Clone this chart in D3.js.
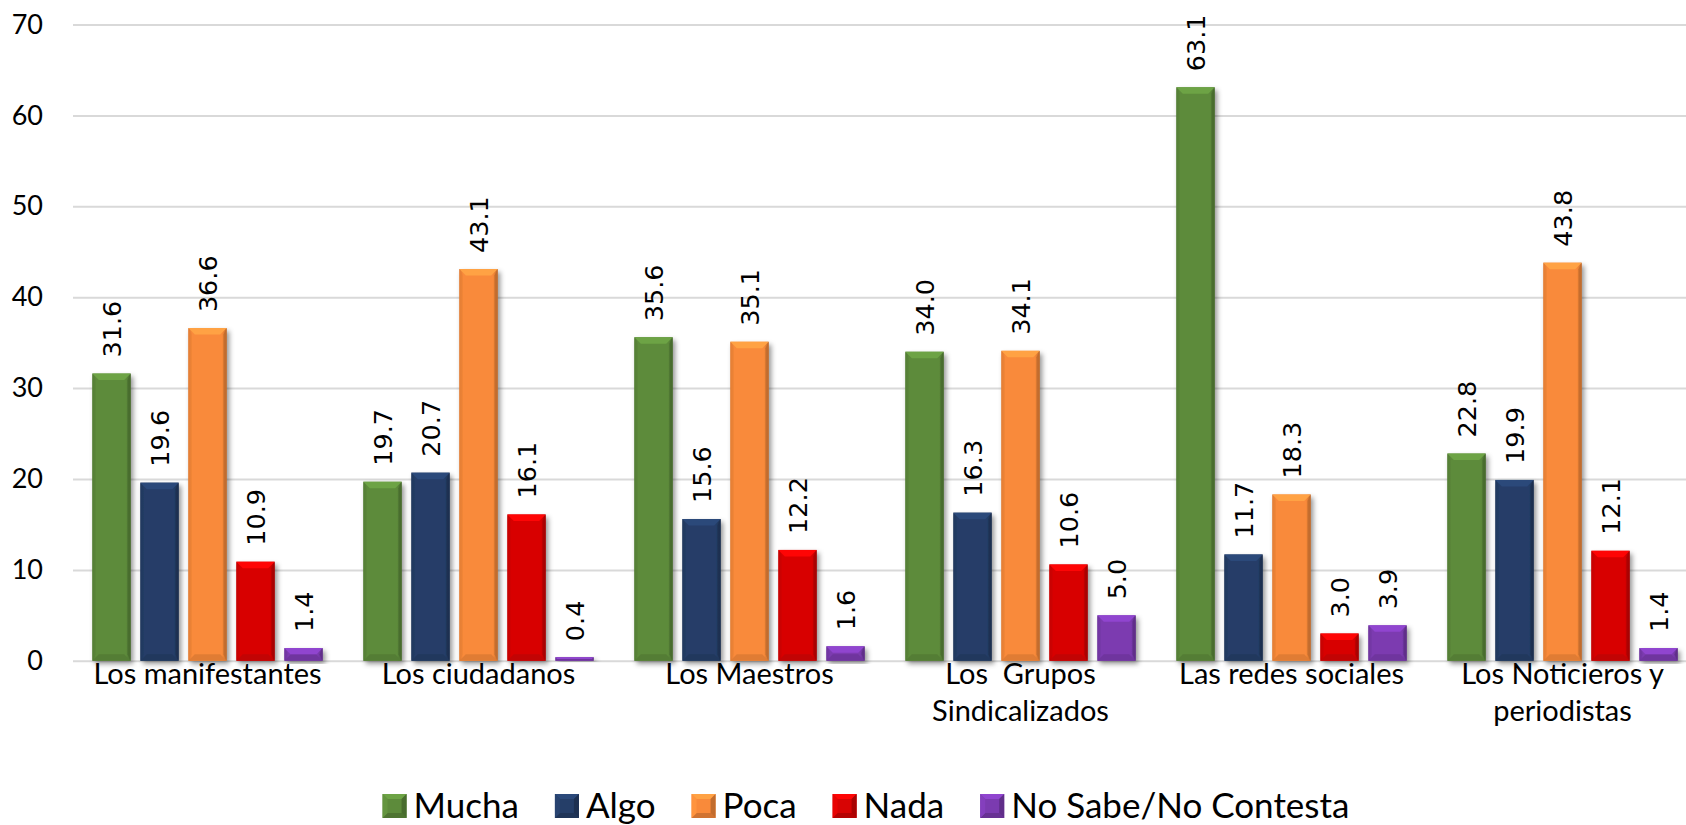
<!DOCTYPE html>
<html>
<head>
<meta charset="utf-8">
<script src="https://cdn.jsdelivr.net/npm/d3@7/dist/d3.min.js"></script>
<style>
  html, body { margin: 0; padding: 0; background: #fff; }
  svg { display: block; }
</style>
</head>
<body>
<svg id="chart" width="1686" height="825"></svg>
<script>
// ---------- DATA ----------
const categories = [
  ["Los manifestantes"],
  ["Los ciudadanos"],
  ["Los Maestros"],
  ["Los\u00a0\u00a0Grupos", "Sindicalizados"],
  ["Las redes sociales"],
  ["Los Noticieros y", "periodistas"]
];
const seriesNames = ["Mucha", "Algo", "Poca", "Nada", "No Sabe/No Contesta"];
const mucha  = [31.6, 19.7, 35.6, 34.0, 63.1, 22.8];
const algo   = [19.6, 20.7, 15.6, 16.3, 11.7, 19.9];
const poca   = [36.6, 43.1, 35.1, 34.1, 18.3, 43.8];
const nada   = [10.9, 16.1, 12.2, 10.6, 3.0, 12.1];
const nsnc   = [1.4, 0.4, 1.6, 5.0, 3.9, 1.4];
const yTicks = [0, 10, 20, 30, 40, 50, 60, 70];

const seriesValues = [mucha, algo, poca, nada, nsnc];
const colors = ["#5d8b3b", "#253e68", "#f98a3a", "#d80404", "#7b3bb0"];

// ---------- LAYOUT ----------
const W = 1686, H = 825;
const plot = { left: 72, right: 1698, top: 24.5, bottom: 660.8 };
const svg = d3.select("#chart");

const catKeys = categories.map((c, i) => i);
const x0 = d3.scaleBand().domain(catKeys).range([plot.left, plot.right]).paddingInner(0).paddingOuter(0);
const x1 = d3.scaleBand().domain(d3.range(seriesNames.length))
  .range([20.3, x0.bandwidth() - 20.3]).paddingInner(0.2).paddingOuter(0);
const y = d3.scaleLinear().domain([0, 70]).range([plot.bottom, plot.top]);

const defs = svg.append("defs");
const shadow = defs.append("filter").attr("id", "shadow")
  .attr("x", "-30%").attr("y", "-10%").attr("width", "170%").attr("height", "130%");
shadow.append("feDropShadow").attr("dx", 2.5).attr("dy", 3).attr("stdDeviation", 2.5)
  .attr("flood-color", "#000").attr("flood-opacity", 0.42);

colors.forEach((c, i) => {
  const base = d3.color(c);
  const g = defs.append("linearGradient").attr("id", "grad" + i)
    .attr("x1", "0%").attr("x2", "100%").attr("y1", "0%").attr("y2", "0%");
  g.append("stop").attr("offset", "0%").attr("stop-color", base.darker(0.35));
  g.append("stop").attr("offset", "10%").attr("stop-color", base);
  g.append("stop").attr("offset", "88%").attr("stop-color", base);
  g.append("stop").attr("offset", "100%").attr("stop-color", base.darker(0.7));
});

// ---------- GRIDLINES ----------
const yAxis = d3.axisLeft(y).tickValues(yTicks).tickSize(-(plot.right - plot.left)).tickPadding(30)
  .tickFormat(d3.format("d"));
const gy = svg.append("g").attr("transform", `translate(${plot.left + 1},0)`).call(yAxis);
gy.select(".domain").remove();
gy.selectAll(".tick line").attr("stroke", "#d9d9d9").attr("stroke-width", 2);
gy.selectAll(".tick text").attr("font-family", "Lato").attr("font-size", 27).attr("fill", "#000");

// ---------- BARS ----------
const bev = 6.5;
const groups = svg.append("g").selectAll("g.cat").data(catKeys).join("g")
  .attr("class", "cat").attr("transform", d => `translate(${x0(d)},0)`);

groups.each(function (ci) {
  const gc = d3.select(this);
  seriesValues.forEach((vals, si) => {
    const v = vals[ci];
    const bx = x1(si), bw = x1.bandwidth();
    const by = y(v), bh = y(0) - y(v);
    const b = Math.min(bev, bh / 2);
    const base = d3.color(colors[si]);
    const g = gc.append("g");
    g.append("rect").attr("x", bx).attr("y", by).attr("width", bw).attr("height", bh)
      .attr("fill", `url(#grad${si})`).attr("filter", "url(#shadow)");
    // top bevel
    g.append("path").attr("d", `M${bx},${by}L${bx + bw},${by}L${bx + bw - b},${by + b}L${bx + b},${by + b}Z`)
      .attr("fill", base.brighter(0.45));
    // bottom bevel
    g.append("path").attr("d", `M${bx},${by + bh}L${bx + bw},${by + bh}L${bx + bw - b},${by + bh - b}L${bx + b},${by + bh - b}Z`)
      .attr("fill", base.darker(0.3));
    // side bevels
    g.append("path").attr("d", `M${bx},${by}L${bx + b * 0.5},${by + b}L${bx + b * 0.5},${by + bh - b}L${bx},${by + bh}Z`)
      .attr("fill", base.darker(0.2)).attr("opacity", 0.6);
    g.append("path").attr("d", `M${bx + bw},${by}L${bx + bw - b * 0.5},${by + b}L${bx + bw - b * 0.5},${by + bh - b}L${bx + bw},${by + bh}Z`)
      .attr("fill", base.darker(0.8)).attr("opacity", 0.7);
    // label
    const lx = bx + bw / 2, ly = by - 16;
    gc.append("text").attr("transform", `translate(${lx},${ly}) rotate(-90)`)
      .attr("text-anchor", "start").attr("dy", "0.36em")
      .attr("font-family", "DejaVu Sans").attr("font-size", 25.5).attr("fill", "#000")
      .text(v.toFixed(1));
  });
});

// ---------- CATEGORY LABELS ----------
svg.append("g").selectAll("text").data(catKeys).join("text")
  .attr("x", d => x0(d) + x0.bandwidth() / 2)
  .attr("y", 674)
  .attr("text-anchor", "middle")
  .attr("font-family", "Lato").attr("font-size", 29).attr("fill", "#000")
  .each(function (d) {
    const t = d3.select(this);
    categories[d].forEach((line, li) => {
      t.append("tspan").attr("x", x0(d) + x0.bandwidth() / 2)
        .attr("dy", li === 0 ? "0.35em" : "1.27em").text(line);
    });
  });

// ---------- LEGEND ----------
const legend = svg.append("g");
const ms = 24, gapMT = 7, gapItem = 36, legY = 806;
const items = legend.selectAll("g").data(seriesNames).join("g");
items.append("text").attr("font-family", "Lato").attr("font-size", 35).attr("fill", "#000")
  .attr("dy", "0.35em").text(d => d);
const widths = [];
items.each(function (d, i) {
  widths.push(this.querySelector("text").getComputedTextLength());
});
const total = d3.sum(widths) + seriesNames.length * (ms + gapMT) + (seriesNames.length - 1) * gapItem;
let startX = 866 - total / 2;
items.each(function (d, i) {
  const g = d3.select(this);
  g.attr("transform", `translate(${startX},${legY})`);
  const base = d3.color(colors[i]);
  const h = ms / 2, b = 5;
  g.append("rect").attr("x", 0).attr("y", -h).attr("width", ms).attr("height", ms).attr("fill", base);
  g.append("path").attr("d", `M0,${-h}L${ms},${-h}L${ms - b},${-h + b}L${b},${-h + b}Z`).attr("fill", base.brighter(0.45));
  g.append("path").attr("d", `M0,${h}L${ms},${h}L${ms - b},${h - b}L${b},${h - b}Z`).attr("fill", base.darker(0.5));
  g.append("path").attr("d", `M0,${-h}L${b},${-h + b}L${b},${h - b}L0,${h}Z`).attr("fill", base.brighter(0.2));
  g.append("path").attr("d", `M${ms},${-h}L${ms - b},${-h + b}L${ms - b},${h - b}L${ms},${h}Z`).attr("fill", base.darker(0.7));
  g.select("text").attr("x", ms + gapMT);
  startX += ms + gapMT + widths[i] + gapItem;
});
</script>
</body>
</html>
